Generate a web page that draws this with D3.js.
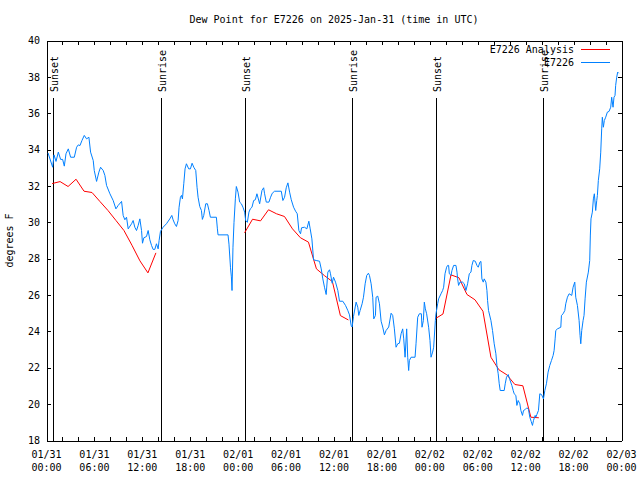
<!DOCTYPE html>
<html><head><meta charset="utf-8">
<script src="https://cdn.jsdelivr.net/npm/d3@7"></script>
<style>
body{margin:0;background:#fff}
svg text{font-family:"DejaVu Sans Mono","Liberation Mono",monospace;font-size:10px;fill:#000}
</style>
</head><body>
<svg id="chart" width="640" height="480"></svg>
<script>
const titleText = "Dew Point for E7226 on 2025-Jan-31 (time in UTC)";
const yLabel = "degrees F";
const startUTC = Date.UTC(2025, 0, 31, 0, 0);
const endUTC = Date.UTC(2025, 1, 3, 0, 0);
const yDomain = [18, 40];
const yTicks = [18, 20, 22, 24, 26, 28, 30, 32, 34, 36, 38, 40];
const seriesNames = ["E7226 Analysis", "E7226"];
const seriesColors = ["#ff0000", "#0080ff"];

// sunrise / sunset events (hours after 01/31 00:00 UTC)
const eventHours = [0.8, 14.3, 24.8, 38.25, 48.75, 62.2];
const eventLabels = ["Sunset", "Sunrise", "Sunset", "Sunrise", "Sunset", "Sunrise"];

// Observations (E7226), hours after start, dew point F
const obsHours = [0.19,0.77,0.94,1.19,1.48,1.77,2.02,2.23,2.44,2.73,3.02,3.48,3.77,3.98,4.19,4.44,4.73,5.02,5.31,5.52,5.85,5.98,6.27,6.56,6.77,7.1,7.31,7.52,7.94,8.35,8.69,8.98,9.4,9.6,9.81,10.02,10.23,10.65,10.85,11.06,11.27,11.48,11.69,11.9,12.02,12.19,12.52,12.73,12.94,13.15,13.35,13.56,13.77,13.98,14.1,14.27,14.6,15.02,15.44,15.69,15.85,16.06,16.27,16.48,16.6,16.77,16.9,17.02,17.19,17.35,17.52,17.81,18.02,18.23,18.44,18.69,18.85,18.98,19.19,19.4,19.52,19.69,19.94,20.15,20.35,20.52,21.27,21.4,21.48,22.73,22.85,23.04,23.15,23.23,23.35,23.48,23.65,23.77,23.98,24.19,24.4,24.6,24.81,24.94,25.15,25.35,25.52,25.73,25.94,26.15,26.35,26.69,26.98,27.19,27.31,27.52,27.85,28.06,28.27,28.56,29.4,29.6,29.81,30.02,30.23,30.44,30.65,30.94,31.19,31.4,31.6,31.81,31.94,32.31,32.6,32.85,33.02,33.23,33.44,33.77,34.19,34.4,34.6,34.81,35.02,35.23,35.44,35.56,35.77,35.94,36.19,36.48,36.69,37.1,37.44,37.73,37.94,38.15,38.27,38.44,38.77,38.98,39.1,39.27,39.52,39.69,39.9,40.1,40.31,40.44,40.65,40.85,40.98,41.19,41.27,41.48,41.69,41.9,42.1,42.31,42.52,42.85,43.15,43.35,43.56,43.77,43.98,44.19,44.4,44.6,44.73,44.9,45.1,45.23,45.35,45.44,45.65,46.15,46.27,46.48,46.69,46.94,47.02,47.19,47.31,47.44,47.6,47.85,48.02,48.15,48.35,48.48,48.69,48.77,48.98,49.1,49.4,49.6,49.73,49.9,50.1,50.23,50.35,50.44,50.65,50.77,50.98,51.27,51.4,51.48,51.6,51.77,52.1,52.31,52.52,52.73,52.94,53.15,53.27,53.44,53.69,53.9,54.06,54.27,54.4,54.52,54.69,54.81,55.02,55.15,55.23,55.35,55.65,55.85,56.06,56.27,56.4,56.56,56.69,56.81,57.31,57.44,57.6,57.81,58.02,58.27,58.44,58.56,58.77,58.9,59.06,59.27,59.4,59.6,59.73,59.9,60.15,60.35,60.52,60.69,60.85,60.98,61.19,61.27,61.4,61.6,61.77,61.98,62.23,62.4,62.6,62.81,63.02,63.23,63.44,63.56,63.69,63.77,63.98,64.4,64.48,64.69,64.9,65.02,65.23,65.44,65.77,65.94,66.15,66.27,66.48,66.69,66.81,66.9,67.02,67.19,67.31,67.44,67.6,67.85,68.02,68.1,68.18,68.35,68.48,68.6,68.77,68.9,68.98,69.1,69.27,69.4,69.52,69.6,69.73,69.85,70.02,70.23,70.44,70.65,70.77,70.94,71.06,71.19,71.27,71.4,71.52,71.65];
const obsValues = [33.82,33.03,33.71,33.35,33.86,33.46,33.46,33.09,33.77,34.04,33.58,33.58,34.13,34.26,34.22,34.5,34.78,34.59,34.68,33.86,33.4,32.85,32.25,32.76,33.03,32.85,32.58,32.03,31.57,31.2,30.74,30.93,31.15,30.38,30.14,30.28,29.64,29.92,30.1,29.73,29.55,29.83,30.19,29.55,28.85,29.15,29.22,29.55,29.04,28.73,28.51,28.51,28.82,28.54,29.0,29.5,29.73,29.92,30.19,30.38,30.14,29.92,29.77,30.1,30.83,31.38,31.48,31.29,32.12,32.94,33.22,32.94,32.94,33.25,33.03,32.85,31.93,31.38,30.87,30.65,30.16,30.38,31.02,31.02,30.65,30.28,30.28,29.64,29.31,29.31,28.8,27.5,27.0,26.25,28.63,30.0,31.29,31.97,31.66,31.11,31.02,30.83,30.56,30.1,30.0,30.56,30.74,30.83,31.2,31.24,31.57,31.02,31.75,31.9,31.57,31.11,31.11,31.38,31.6,31.71,31.71,31.2,31.38,31.9,32.17,31.66,31.24,30.83,30.61,30.47,29.55,29.37,29.7,29.73,29.64,30.06,29.64,29.09,27.94,27.9,27.86,27.44,26.89,26.43,26.03,27.26,27.39,27.17,26.65,26.98,26.71,26.25,25.66,25.66,25.43,25.15,24.91,24.33,24.24,24.82,25.61,25.33,24.88,25.15,25.52,25.88,26.62,27.08,27.2,27.08,26.62,25.88,24.69,24.88,25.88,25.94,25.52,24.56,24.24,23.81,24.05,24.24,25.0,24.88,24.14,23.13,23.32,23.35,23.87,24.14,23.59,22.58,24.14,22.58,21.85,22.4,22.58,22.58,23.32,24.78,24.97,24.97,24.23,24.6,25.61,25.24,24.97,24.23,23.5,22.58,22.86,23.13,24.6,24.97,25.52,25.79,26.07,26.25,26.43,27.17,27.53,27.63,27.63,27.17,27.08,27.35,27.63,27.63,27.26,26.89,26.53,26.71,26.71,26.62,26.25,26.62,27.17,27.26,27.63,27.9,27.86,27.63,27.53,27.81,27.85,26.89,26.71,26.89,26.71,26.25,25.7,25.15,24.6,24.05,23.32,22.77,22.13,21.67,21.12,20.75,20.75,21.12,21.48,21.63,21.34,21.03,20.75,20.57,20.48,19.93,20.2,20.02,19.65,19.38,19.65,19.69,19.8,19.72,19.28,19.05,18.83,19.1,19.38,19.28,19.43,19.65,20.57,20.53,20.29,20.75,21.12,21.76,22.13,22.4,22.68,22.95,23.59,24.05,24.14,24.23,24.88,24.97,25.15,25.52,25.88,26.07,25.98,26.43,26.71,25.88,25.43,24.6,23.78,23.32,24.05,24.6,24.88,25.79,26.71,27.26,27.9,29.3,30.19,30.56,31.29,31.57,30.65,31.2,31.48,32.3,32.94,33.86,35.14,35.78,35.23,35.6,35.78,36.06,36.1,36.33,36.88,36.33,36.88,36.98,37.53,37.98,38.26,38.2];

// Analysis (E7226 Analysis), hourly, null separates segments
const anaHours = [0.7,1.7,2.7,3.7,4.7,5.7,6.7,7.7,8.7,9.7,10.7,11.7,12.7,13.7,null,
  24.8,25.8,26.8,27.8,28.8,29.8,30.8,31.8,32.8,33.8,34.8,35.8,36.8,37.8,null,
  48.65,49.65,50.65,51.65,52.65,53.65,54.65,55.65,56.65,57.65,58.65,59.65,60.65,61.65];
const anaValues = [32.13,32.24,31.97,32.37,31.71,31.64,31.14,30.65,30.1,29.55,28.74,27.88,27.22,28.32,null,
  29.42,30.17,30.08,30.69,30.47,30.32,29.64,29.15,28.91,27.44,27.07,26.74,24.87,24.63,null,
  24.69,24.96,27.11,26.95,26.03,25.74,25.11,22.58,21.89,21.61,21.08,21.01,19.28,19.25];

const H = 3600e3;
const svg = d3.select("#chart");
const pLeft = 46.5, pRight = 621.5, pTop = 40.5, pBottom = 440.5;

const x = d3.scaleUtc().domain([new Date(startUTC), new Date(endUTC)]).range([pLeft, pRight]);
const y = d3.scaleLinear().domain(yDomain).range([pBottom, pTop]);

const twoHour = d3.utcHour.every(2).range(new Date(startUTC), new Date(endUTC + 1));
const sixHour = d3.utcHour.every(6).range(new Date(startUTC), new Date(endUTC + 1));

// frame axes with inward ticks
const gb = svg.append("g").attr("transform", `translate(0,${pBottom})`)
  .call(d3.axisBottom(x).tickValues(twoHour).tickSizeInner(-4).tickSizeOuter(0).tickFormat(""));
const gt = svg.append("g").attr("transform", `translate(0,${pTop})`)
  .call(d3.axisTop(x).tickValues(twoHour).tickSizeInner(-4).tickSizeOuter(0).tickFormat(""));
const gl = svg.append("g").attr("transform", `translate(${pLeft},0)`)
  .call(d3.axisLeft(y).tickValues(yTicks).tickSizeInner(-4).tickSizeOuter(0).tickPadding(6.5).tickFormat(d3.format("d")));
const gr = svg.append("g").attr("transform", `translate(${pRight},0)`)
  .call(d3.axisRight(y).tickValues(yTicks).tickSizeInner(-4).tickSizeOuter(0).tickFormat(""));
[gb, gt, gl, gr].forEach(g => {
  g.attr("font-family", null).attr("font-size", null);
  g.selectAll("path,line").attr("stroke", "#000").attr("stroke-width", 1).attr("shape-rendering", "crispEdges");
});
gl.selectAll("text").attr("fill", "#000");

// two-line x tick labels
const xl = svg.append("g");
sixHour.forEach(d => {
  const t = xl.append("text").attr("text-anchor", "middle").attr("x", x(d));
  t.append("tspan").attr("x", x(d)).attr("y", 458).text(d3.utcFormat("%m/%d")(d));
  t.append("tspan").attr("x", x(d)).attr("y", 471).text(d3.utcFormat("%H:%M")(d));
});

// title and y label
svg.append("text").attr("x", (pLeft + pRight) / 2).attr("y", 23).attr("text-anchor", "middle").text(titleText);
svg.append("text").attr("transform", `translate(13,${(pTop + pBottom) / 2}) rotate(-90)`)
  .attr("text-anchor", "middle").text(yLabel);

// sunrise / sunset markers
eventHours.forEach((h, i) => {
  const xx = Math.round(x(new Date(startUTC + h * H))) + 0.5;
  svg.append("line").attr("x1", xx).attr("x2", xx).attr("y1", 98).attr("y2", pBottom)
    .attr("stroke", "#000").attr("stroke-width", 1).attr("shape-rendering", "crispEdges");
  svg.append("text").attr("transform", `translate(${xx + 4.5},92) rotate(-90)`)
    .attr("text-anchor", "start").text(eventLabels[i]);
});

// lines
const anaData = anaHours.map((h, i) => ({h, v: anaValues[i]}));
const obsData = obsHours.map((h, i) => ({h, v: obsValues[i]}));
const line = d3.line()
  .defined(d => d.h != null && d.v != null)
  .x(d => x(new Date(startUTC + d.h * H)))
  .y(d => y(d.v));

svg.append("path").datum(anaData).attr("d", line)
  .attr("fill", "none").attr("stroke", seriesColors[0]).attr("stroke-width", 1);
svg.append("path").datum(obsData).attr("d", line)
  .attr("fill", "none").attr("stroke", seriesColors[1]).attr("stroke-width", 1);

// legend
const legendY = [49.5, 62.5];
seriesNames.forEach((name, i) => {
  svg.append("text").attr("x", 574).attr("y", legendY[i] + 3.5).attr("text-anchor", "end").text(name);
  svg.append("line").attr("x1", 581).attr("x2", 610).attr("y1", legendY[i]).attr("y2", legendY[i])
    .attr("stroke", seriesColors[i]).attr("stroke-width", 1).attr("shape-rendering", "crispEdges");
});
</script>
</body></html>
